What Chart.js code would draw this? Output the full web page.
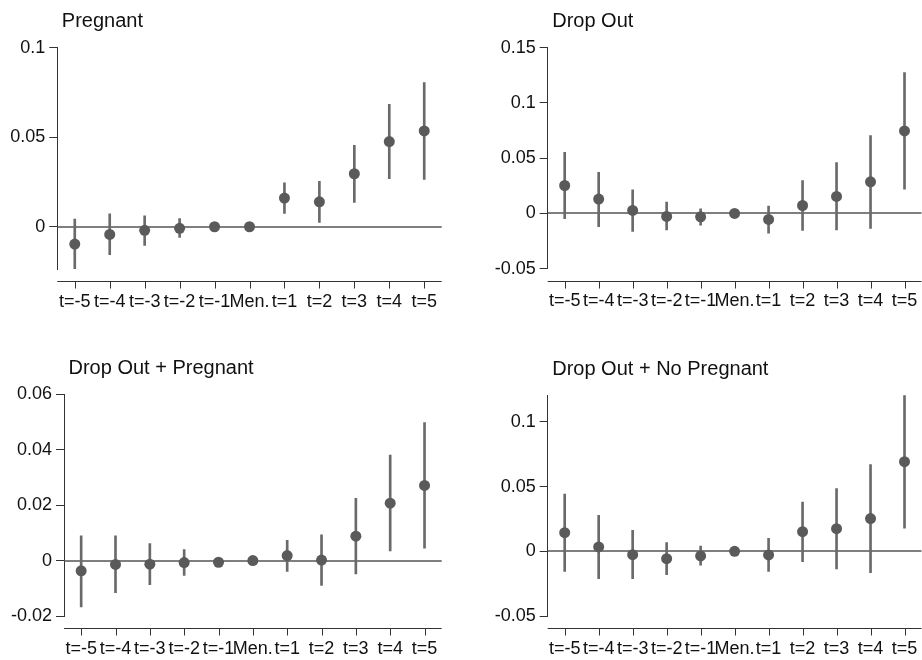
<!DOCTYPE html>
<html>
<head>
<meta charset="utf-8">
<script src="https://cdn.jsdelivr.net/npm/chart.js@4.4.0/dist/chart.umd.min.js"></script>
<style>
  html, body { margin: 0; padding: 0; background: #fff; overflow: hidden; }
  #wrap { position: relative; width: 922px; height: 660px; overflow: hidden; }
  canvas { position: absolute; }
</style>
</head>
<body>
<div id="wrap">
  <canvas id="c1" width="461" height="330" style="left:0;top:0"></canvas>
  <canvas id="c2" width="466" height="330" style="left:461px;top:0"></canvas>
  <canvas id="c3" width="461" height="330" style="left:0;top:330px"></canvas>
  <canvas id="c4" width="466" height="330" style="left:461px;top:330px"></canvas>
</div>
<script>
const periods = ['t=-5', 't=-4', 't=-3', 't=-2', 't=-1', 'Men.', 't=1', 't=2', 't=3', 't=4', 't=5'];

// Pregnant
const pregEst = [-0.0097, -0.0043, -0.0020, -0.0009, 0, 0, 0.0160, 0.0139, 0.0296, 0.0476, 0.0535];
const pregLo  = [-0.0236, -0.0156, -0.0104, -0.0060, -0.0015, 0, 0.0074, 0.0024, 0.0136, 0.0268, 0.0264];
const pregHi  = [0.0043, 0.0072, 0.0061, 0.0045, 0.0015, 0, 0.0245, 0.0253, 0.0455, 0.0684, 0.0805];
const pregTicks = [0, 0.05, 0.1];

// Drop Out
const dropEst = [0.0253, 0.0130, 0.0027, -0.0027, -0.0030, 0, -0.0054, 0.0072, 0.0154, 0.0286, 0.0747];
const dropLo  = [-0.0048, -0.0120, -0.0163, -0.0150, -0.0105, 0, -0.0178, -0.0154, -0.0148, -0.0136, 0.0220];
const dropHi  = [0.0554, 0.0373, 0.0214, 0.0102, 0.0042, 0, 0.0066, 0.0298, 0.0461, 0.0705, 0.1274];
const dropTicks = [-0.05, 0, 0.05, 0.1, 0.15];

// Drop Out + Pregnant
const dpEst = [-0.0037, -0.0014, -0.0013, -0.0007, -0.0006, 0, 0.0018, 0.0002, 0.0088, 0.0207, 0.0271];
const dpLo  = [-0.0167, -0.0116, -0.0087, -0.0054, -0.0010, 0, -0.0039, -0.0090, -0.0048, 0.0035, 0.0045];
const dpHi  = [0.0089, 0.0089, 0.0061, 0.0040, -0.0002, 0, 0.0073, 0.0093, 0.0225, 0.0381, 0.0498];
const dpTicks = [-0.02, 0, 0.02, 0.04, 0.06];

// Drop Out + No Pregnant
const dnpEst = [0.0144, 0.0034, -0.0026, -0.0057, -0.0036, 0, -0.0028, 0.0152, 0.0175, 0.0253, 0.0693];
const dnpLo  = [-0.0155, -0.0211, -0.0211, -0.0180, -0.0108, 0, -0.0155, -0.0080, -0.0137, -0.0165, 0.0178];
const dnpHi  = [0.0443, 0.0278, 0.0162, 0.0067, 0.0041, 0, 0.0100, 0.0381, 0.0485, 0.0670, 0.1206];
const dnpTicks = [-0.05, 0, 0.05, 0.1];

Chart.defaults.font.family = '"Liberation Sans", Arial, sans-serif';
Chart.defaults.color = '#111';

// zero line, detached x axis and panel title (Stata look)
const stataBits = {
  id: 'stataBits',
  beforeDatasetsDraw(chart) {
    const { ctx, chartArea: a, scales: { x, y } } = chart;
    ctx.save();
    const y0 = Math.round(y.getPixelForValue(0));
    ctx.strokeStyle = '#555';
    ctx.lineWidth = 1.5;
    ctx.beginPath();
    ctx.moveTo(a.left, y0);
    ctx.lineTo(a.right, y0);
    ctx.stroke();

    const xb = Math.round(a.bottom + 12) + 0.5;
    ctx.strokeStyle = '#333';
    ctx.lineWidth = 1;
    ctx.beginPath();
    ctx.moveTo(a.left, xb);
    ctx.lineTo(a.right, xb);
    x.ticks.forEach((t, i) => {
      const px = Math.round(x.getPixelForTick(i)) + 0.5;
      ctx.moveTo(px, xb);
      ctx.lineTo(px, xb + 7);
    });
    ctx.stroke();
    ctx.restore();
  },
  afterDraw(chart, args, opts) {
    const { ctx, chartArea: a } = chart;
    ctx.save();
    ctx.font = '20px "Liberation Sans", Arial, sans-serif';
    ctx.fillStyle = '#111';
    ctx.textBaseline = 'middle';
    ctx.fillText(opts.title, a.left + 4.5, a.top - 26);
    ctx.restore();
  }
};

function makePanel(id, title, est, lo, hi, yTicks, yWidth, padTop, padRight, xHeight) {
  const yMin = Math.min(...yTicks, ...lo);
  const yMax = Math.max(...yTicks, ...hi);
  new Chart(document.getElementById(id), {
    data: {
      labels: periods,
      datasets: [
        {
          type: 'line',
          data: est,
          showLine: false,
          pointRadius: 5.5,
          pointHoverRadius: 5.5,
          pointBackgroundColor: '#5a5a5a',
          pointBorderWidth: 0,
          order: 0
        },
        {
          type: 'bar',
          data: lo.map((v, i) => [v, hi[i]]),
          barThickness: 2,
          backgroundColor: '#6a6a6a',
          borderWidth: 0,
          order: 1
        }
      ]
    },
    options: {
      responsive: false,
      animation: false,
      layout: { padding: { top: padTop, right: padRight, left: 0, bottom: 0 } },
      plugins: {
        legend: { display: false },
        tooltip: { enabled: false },
        stataBits: { title: title }
      },
      scales: {
        x: {
          type: 'category',
          offset: true,
          grid: { display: false, drawTicks: true, tickLength: 22 },
          border: { display: false },
          ticks: { padding: 0, font: { size: 18 }, maxRotation: 0, autoSkip: false },
          afterFit: (s) => { s.height = xHeight; }
        },
        y: {
          min: yMin,
          max: yMax,
          grid: { display: true, drawOnChartArea: false, drawTicks: true, tickLength: 8, color: '#333' },
          border: { display: true, color: '#333', width: 1 },
          ticks: { padding: 4, font: { size: 18 }, callback: (v) => String(v) },
          afterBuildTicks: (s) => { s.ticks = yTicks.map((v) => ({ value: v })); },
          afterFit: (s) => { s.width = yWidth; }
        }
      }
    },
    plugins: [stataBits]
  });
}

makePanel('c1', 'Pregnant', pregEst, pregLo, pregHi, pregTicks, 57.3, 47.7, 19.3, 61);
makePanel('c2', 'Drop Out', dropEst, dropLo, dropHi, dropTicks, 86.7, 47.7, 1.8, 61.3);
makePanel('c3', 'Drop Out + Pregnant', dpEst, dpLo, dpHi, dpTicks, 64, 64.3, 19.3, 44);
makePanel('c4', 'Drop Out + No Pregnant', dnpEst, dnpLo, dnpHi, dnpTicks, 86.7, 65.3, 1.8, 44);
</script>
</body>
</html>
